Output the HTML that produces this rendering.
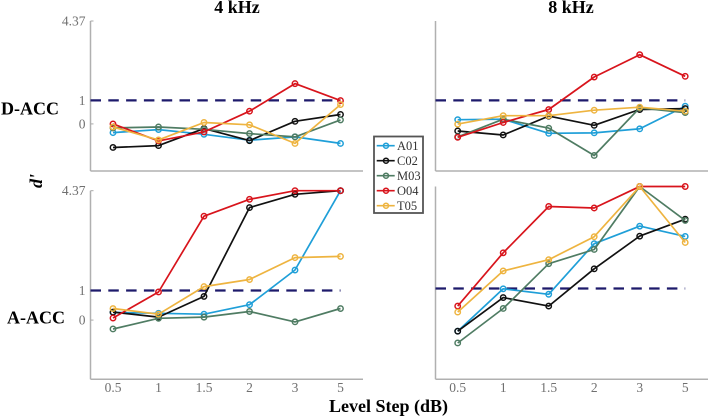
<!DOCTYPE html>
<html>
<head>
<meta charset="utf-8">
<style>
html,body{margin:0;padding:0;background:#fff;width:709px;height:417px;overflow:hidden}
svg{display:block}
text{font-family:"Liberation Serif",serif}
.tick{font-size:13.5px;fill:#707070}
.title{font-size:16px;font-weight:bold;fill:#000}
</style>
</head>
<body>
<svg id="chart" xmlns="http://www.w3.org/2000/svg" width="709" height="417" viewBox="0 0 709 417">
<text class="title" x="237" y="13" text-anchor="middle" style="font-size:18px">4 kHz</text>
<text class="title" x="571" y="13" text-anchor="middle" style="font-size:18px">8 kHz</text>
<text class="title" x="1" y="114.5" style="font-size:18px">D-ACC</text>
<text class="title" x="7" y="323.5" style="font-size:18px">A-ACC</text>
<text class="title" transform="translate(42,181) rotate(-90)" text-anchor="middle" style="font-size:18px;font-style:italic">d'</text>
<text class="title" x="388.5" y="412" text-anchor="middle" style="font-size:18px">Level Step (dB)</text>
<g id="panels"></g>
<g>
<rect x="374" y="136.5" width="49" height="76.5" fill="#fff" stroke="#555" stroke-width="1.8"/>
<g id="legend-items"></g>
</g>
</svg>
<script>
const categories = ['0.5', '1', '1.5', '2', '3', '5'];
const seriesNames = ['A01', 'C02', 'M03', 'O04', 'T05'];
const seriesColors = ['#1f9fd8', '#111111', '#4f7c63', '#d8141c', '#eeb440'];
const yTickValues = [0, 1, 4.37];
const yMin = -2;
const yMax = 4.37;
const threshold = 1;

const dAcc4k = [
  [-0.37, -0.24, -0.44, -0.69, -0.55, -0.83],
  [-1.0, -0.92, -0.2, -0.71, 0.11, 0.40],
  [-0.17, -0.13, -0.23, -0.41, -0.55, 0.17],
  [0, -0.72, -0.34, 0.54, 1.71, 0.99],
  [-0.13, -0.68, 0.06, -0.04, -0.83, 0.82]
];
const dAcc8k = [
  [0.18, 0.2, -0.4, -0.38, -0.21, 0.75],
  [-0.3, -0.47, 0.33, -0.06, 0.61, 0.65],
  [-0.55, 0.2, -0.18, -1.34, 0.68, 0.48],
  [-0.57, 0.06, 0.61, 1.99, 2.94, 2.02],
  [-0.01, 0.35, 0.35, 0.58, 0.71, 0.54]
];
const aAcc4k = [
  [0.26, 0.23, 0.2, 0.52, 1.69, 4.37],
  [0.27, 0.1, 0.8, 3.8, 4.25, 4.37],
  [-0.3, 0.06, 0.1, 0.29, -0.06, 0.39],
  [0.07, 0.95, 3.51, 4.08, 4.37, 4.37],
  [0.39, 0.2, 1.13, 1.37, 2.11, 2.15]
];
const aAcc8k = [
  [-0.41, 0.99, 0.81, 2.48, 3.06, 2.72],
  [-0.41, 0.7, 0.42, 1.65, 2.73, 3.29],
  [-0.8, 0.34, 1.82, 2.29, 4.37, 3.25],
  [0.42, 2.18, 3.71, 3.66, 4.37, 4.37],
  [0.22, 1.58, 1.95, 2.71, 4.37, 2.52]
];

const NS = 'http://www.w3.org/2000/svg';
const panelsGroup = document.getElementById('panels');
const legendGroup = document.getElementById('legend-items');

function mk(tag, attrs, parent) {
  const el = document.createElementNS(NS, tag);
  for (const k in attrs) el.setAttribute(k, attrs[k]);
  parent.appendChild(el);
  return el;
}

function drawPanel(key, data, box) {
  const g = mk('g', {}, panelsGroup);
  
  
  const xScale = i => box.x0 + i * box.dx;
  const yScale = v => box.bottom - (v - yMin) / (yMax - yMin) * (box.bottom - box.top);

  const yAxis = mk('line', {x1: box.left, x2: box.left, y1: box.top, y2: box.bottom, stroke: '#b0b0b0', 'stroke-width': 1.5}, g);
  
  
  const xAxis = mk('line', {x1: box.left, x2: box.right, y1: box.bottom, y2: box.bottom, stroke: '#b0b0b0', 'stroke-width': 1.5}, g);
  
  

  if (box.yLabels) {
    yTickValues.forEach(v => {
      const tick = mk('line', {x1: box.left, x2: box.left + 3, y1: yScale(v), y2: yScale(v), stroke: '#a9a9a9', 'stroke-width': 1}, g);
      
      
      const label = mk('text', {x: box.left - 5, y: yScale(v) + 4.5, 'text-anchor': 'end', class: 'tick'}, g);
      
      
      label.textContent = String(v);
    });
  }
  if (box.xLabels) {
    categories.forEach((c, i) => {
      const label = mk('text', {x: xScale(i), y: box.bottom + 12.5, 'text-anchor': 'middle', class: 'tick'}, g);
      
      
      label.textContent = c;
    });
  }

  const dash = mk('line', {x1: box.left, x2: xScale(categories.length - 1), y1: yScale(threshold), y2: yScale(threshold), stroke: '#1d1a6b', 'stroke-width': 2.2, 'stroke-dasharray': '10.5 7.3'}, g);
  
  

  data.forEach((vals, s) => {
    const sg = mk('g', {}, g);
    
    
    const pts = vals.map((v, i) => xScale(i).toFixed(1) + ',' + yScale(v).toFixed(1)).join(' ');
    mk('polyline', {points: pts, fill: 'none', stroke: seriesColors[s], 'stroke-width': 1.7, 'stroke-linejoin': 'round'}, sg);
    vals.forEach((v, i) => {
      const pt = mk('circle', {cx: xScale(i), cy: yScale(v), r: 2.7, fill: 'none', stroke: seriesColors[s], 'stroke-width': 1.5}, sg);
      
      
    });
  });
}

drawPanel('d-acc-4khz', dAcc4k, {left: 90.5, right: 363, top: 21, bottom: 171, x0: 113, dx: 45.5, yLabels: true, xLabels: false});
drawPanel('d-acc-8khz', dAcc8k, {left: 435.5, right: 708, top: 21, bottom: 171, x0: 457.7, dx: 45.5, yLabels: false, xLabels: false});
drawPanel('a-acc-4khz', aAcc4k, {left: 90.5, right: 363, top: 190.7, bottom: 379.3, x0: 113, dx: 45.5, yLabels: true, xLabels: true});
drawPanel('a-acc-8khz', aAcc8k, {left: 435.5, right: 708, top: 186.5, bottom: 379.3, x0: 457.7, dx: 45.5, yLabels: false, xLabels: true});

seriesNames.forEach((name, s) => {
  const cy = 145.7 + s * 15;
  const item = mk('g', {}, legendGroup);
  
  
  mk('line', {x1: 376.7, x2: 394.7, y1: cy, y2: cy, stroke: seriesColors[s], 'stroke-width': 1.7}, item);
  mk('circle', {cx: 386, cy: cy, r: 2.5, fill: 'none', stroke: seriesColors[s], 'stroke-width': 1.5}, item);
  const t = mk('text', {x: 397, y: cy + 4.3, fill: '#333', style: 'font-size:12.5px'}, item);
  t.textContent = name;
});
</script>
</body>
</html>
